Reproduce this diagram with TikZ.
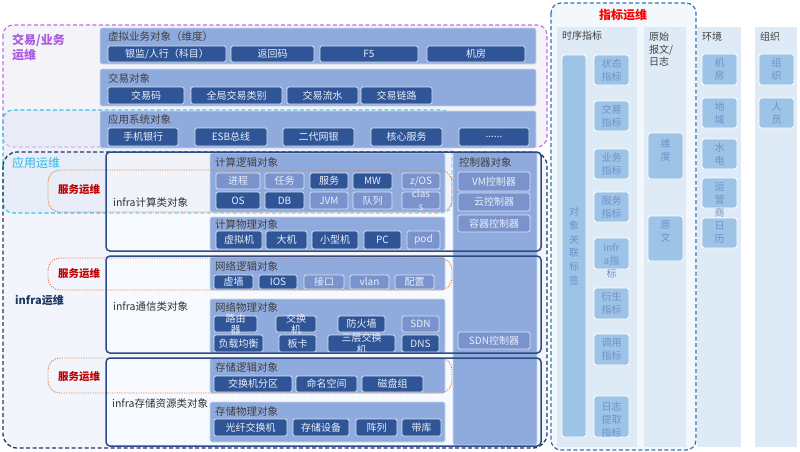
\documentclass[tikz,border=0pt]{standalone}
\usepackage{fontspec}
\setmainfont{Noto Sans CJK SC}
\usetikzlibrary{fit}
\definecolor{pnlc}{RGB}{143,170,220}
\definecolor{pnlb}{RGB}{205,218,240}
\definecolor{dkc}{RGB}{47,85,151}
\definecolor{ltc}{RGB}{122,147,205}
\definecolor{bxb}{RGB}{218,227,243}
\definecolor{wtc}{RGB}{234,239,249}
\definecolor{ttlc}{RGB}{64,64,64}
\definecolor{colc}{RGB}{222,235,247}
\definecolor{rbc}{RGB}{157,195,230}
\definecolor{rtc}{RGB}{112,145,205}
\definecolor{zbf}{RGB}{243,248,253}
\definecolor{zbd}{RGB}{46,117,182}
\definecolor{purc}{RGB}{190,110,240}
\definecolor{purt}{RGB}{170,90,225}
\definecolor{purf}{RGB}{244,243,248}
\definecolor{cync}{RGB}{50,195,240}
\definecolor{cynt}{RGB}{40,185,235}
\definecolor{cynf}{RGB}{226,231,244}
\definecolor{nvyc}{RGB}{31,56,100}
\definecolor{nvyf}{RGB}{242,246,252}
\definecolor{nbxc}{RGB}{45,75,135}
\definecolor{orgc}{RGB}{225,130,70}
\definecolor{redA}{RGB}{192,0,0}
\definecolor{redB}{RGB}{255,0,0}
\definecolor{inftc}{RGB}{50,50,50}
\newcommand\bx[8]{\node[#6,fit={(#2,#3)(#4,#5)},inner sep=0pt,label={[#7]center:{#8}}] (#1) {};}
\begin{document}
\begin{tikzpicture}[x=1pt,y=-1pt,
  pnl/.style={fill=pnlc,draw=pnlb,line width=0.6pt,rounded corners=2pt},
  dk/.style={fill=dkc,draw=bxb,line width=0.9pt,rounded corners=1.5pt},
  lt/.style={fill=ltc,draw=bxb,line width=0.9pt,rounded corners=1.5pt},
  wt/.style={font=\fontsize{10}{11}\selectfont,text=wtc,align=center,inner sep=0pt},
  ttl/.style={font=\fontsize{10.5}{12}\selectfont,text=ttlc,anchor=west,inner sep=0pt},
  col/.style={fill=colc,draw=none,inner sep=0pt},
  rb/.style={fill=rbc,draw=white,line width=0.9pt,rounded corners=2.5pt},
  rt/.style={font=\fontsize{10}{13}\selectfont,text=rtc,align=center,inner sep=0pt},
  svc/.style={font=\bfseries\fontsize{10.5}{12}\selectfont,text=redA,inner sep=0pt},
  orgbox/.style={draw=orgc,line width=0.9pt,dash pattern=on 1.2pt off 1.2pt,rounded corners=12pt},
  nbox/.style={draw=nbxc,line width=1.5pt,rounded corners=4pt},
  inf/.style={font=\fontsize{10.5}{12}\selectfont,text=inftc,anchor=west,inner sep=0pt}]
\useasboundingbox (0,0) rectangle (800,451);
\fill[white] (0,0) rectangle (800,451);
% ---------- right: indicator area ----------
\fill[zbf,rounded corners=10pt] (551,3) rectangle (696,450);
\node[col,fit={(557,27)(637,447)}] (c1) {};
\node[col,fit={(644,27)(686,447)}] (c2) {};
\node[col,fit={(697,27)(741,447)}] (c3) {};
\node[col,fit={(755,27)(797,447)}] (c4) {};
\draw[zbd,line width=1.2pt,dash pattern=on 4pt off 2.5pt,rounded corners=10pt] (551,3) rectangle (696,450);
\node[font=\bfseries\fontsize{12}{14}\selectfont,text=redB] (zbt) at (623,15) {指标运维};
\node[ttl,font=\fontsize{10}{12}\selectfont] (c1t) at (562,36) {时序指标};
\node[ttl,font=\fontsize{10}{12.5}\selectfont,align=left] (c2t) at (649,49.5) {原始\\报文/\\日志};
\node[ttl,font=\fontsize{10}{12}\selectfont] (c3t) at (702,37) {环境};
\node[ttl,font=\fontsize{10}{12}\selectfont] (c4t) at (760,37) {组织};
\bx{tall}{562}{55}{586}{437}{rb}{rt,font=\fontsize{10}{13.8}\selectfont}{对\\象\\关\\联\\标\\签}
\bx{s1}{594}{55}{629}{85}{rb}{rt}{状态\\指标}
\bx{s2}{594}{101}{629}{131}{rb}{rt}{交易\\指标}
\bx{s3}{594}{149}{629}{179}{rb}{rt}{业务\\指标}
\bx{s4}{594}{192}{629}{222}{rb}{rt}{服务\\指标}
\bx{s5}{594}{238}{629}{269}{rb}{rt,yshift=-7pt}{infr\\a指\\标}
\bx{s6}{594}{288}{629}{319}{rb}{rt}{衍生\\指标}
\bx{s7}{594}{334}{629}{365}{rb}{rt}{调用\\指标}
\bx{s8}{594}{396}{629}{437}{rb}{rt,yshift=-3pt}{日志\\提取\\指标}
\bx{y1}{648}{133}{683}{179}{rb}{rt,yshift=6pt}{维\\度}
\bx{y2}{648}{216}{683}{261}{rb}{rt,yshift=7pt}{原\\文}
\bx{e1}{702}{54}{737}{85}{rb}{rt}{机\\房}
\bx{e2}{702}{98}{737}{128}{rb}{rt}{地\\域}
\bx{e3}{702}{139}{737}{169}{rb}{rt}{水\\电}
\bx{e4}{702}{178}{737}{208}{rb}{rt,yshift=-7pt}{运\\营\\商}
\bx{e5}{702}{218}{737}{248}{rb}{rt}{日\\历}
\bx{g1}{759}{54}{794}{85}{rb}{rt}{组\\织}
\bx{g2}{759}{98}{794}{128}{rb}{rt}{人\\员}
% ---------- left regions ----------
\fill[purf,rounded corners=10pt] (3,25) rectangle (547,147);
\draw[purc,line width=1.1pt,dash pattern=on 4pt off 2.5pt,rounded corners=10pt] (3,25) rectangle (547,147);
\fill[nvyf,rounded corners=14pt] (3,152) rectangle (547,448);
\fill[cynf,fill opacity=0.6,rounded corners=10pt] (3,110) rectangle (452,213);
\draw[cync,line width=1.1pt,dash pattern=on 4pt off 2.5pt,rounded corners=10pt] (3,110) rectangle (452,213);
\draw[nvyc,line width=1.3pt,dash pattern=on 4pt off 2.5pt,rounded corners=14pt] (3,152) rectangle (547,448);
\node[font=\bfseries\fontsize{12}{15}\selectfont,text=purt,align=left,anchor=west,inner sep=0pt] (lb1) at (12,47) {交易/业务\\运维};
\node[font=\fontsize{12}{14}\selectfont,text=cynt,anchor=west,inner sep=0pt] (lb2) at (12,163) {应用运维};
\node[font=\bfseries\fontsize{11}{13}\selectfont,text=nvyc,anchor=west,inner sep=0pt] (lb3) at (15,300) {infra运维};
% ---------- business rows ----------
\node[pnl,fit={(100,28)(536,64)},inner sep=0pt] (r1) {};
\node[ttl] (r1t) at (108,37) {虚拟业务对象（维度）};
\bx{b11}{108}{46}{226}{62}{dk}{wt}{银监/人行（科目）}
\bx{b12}{231}{46}{314}{62}{dk}{wt}{返回码}
\bx{b13}{320}{46}{418}{62}{dk}{wt}{F5}
\bx{b14}{427}{46}{525}{62}{dk}{wt}{机房}
\node[pnl,fit={(100,69)(536,106)},inner sep=0pt] (r2) {};
\node[ttl] (r2t) at (108,78) {交易对象};
\bx{b21}{108}{87}{184}{104}{dk}{wt}{交易码}
\bx{b22}{191}{87}{282}{104}{dk}{wt}{全局交易类别}
\bx{b23}{287}{87}{358}{104}{dk}{wt}{交易流水}
\bx{b24}{361}{87}{432}{104}{dk}{wt}{交易链路}
\node[pnl,fit={(100,111)(536,148)},inner sep=0pt] (r3) {};
\node[ttl] (r3t) at (108,119) {应用系统对象};
\bx{b31}{108}{128}{178}{146}{dk}{wt}{手机银行}
\bx{b32}{195}{128}{267}{146}{dk}{wt}{ESB总线}
\bx{b33}{283}{128}{354}{146}{dk}{wt}{二代网银}
\bx{b34}{371}{128}{442}{146}{dk}{wt}{核心服务}
\bx{b35}{459}{128}{529}{146}{dk}{wt}{......}
% ---------- infra boxes ----------
\fill[white,fill opacity=0.35,rounded corners=4pt] (106,152) rectangle (541,251);
\fill[white,fill opacity=0.35,rounded corners=4pt] (106,256) rectangle (541,353);
\fill[white,fill opacity=0.35,rounded corners=4pt] (106,358) rectangle (541,446);
\node[pnl,fit={(453,152)(537,445)},inner sep=0pt] (ctl) {};
\node[ttl] (ctlt) at (459,162) {控制器对象};
\bx{k1}{458}{172}{530}{191}{lt}{wt}{VM控制器}
\bx{k2}{458}{193}{530}{211}{lt}{wt}{云控制器}
\bx{k3}{458}{215}{530}{232}{lt}{wt}{容器控制器}
\bx{k4}{458}{332}{530}{349}{lt}{wt}{SDN控制器}
% compute logic
\node[pnl,fit={(210,153)(445,212)},inner sep=0pt] (p1) {};
\node[ttl] (p1t) at (215,162) {计算逻辑对象};
\bx{q1}{216}{173}{260}{189}{lt}{wt}{进程}
\bx{q2}{265}{173}{304}{189}{lt}{wt}{任务}
\bx{q3}{310}{173}{348}{189}{dk}{wt}{服务}
\bx{q4}{353}{173}{392}{189}{dk}{wt}{MW}
\bx{q5}{402}{173}{440}{189}{lt}{wt}{z/OS}
\bx{q6}{216}{192}{260}{209}{dk}{wt}{OS}
\bx{q7}{265}{192}{304}{209}{dk}{wt}{DB}
\bx{q8}{310}{192}{348}{209}{lt}{wt}{JVM}
\bx{q9}{353}{192}{392}{209}{lt}{wt}{队列}
\bx{q10}{402}{192}{440}{209}{lt}{wt,font=\fontsize{10}{13}\selectfont}{clas\\s}
% compute physical
\node[pnl,fit={(210,217)(445,250)},inner sep=0pt] (p2) {};
\node[ttl] (p2t) at (215,224) {计算物理对象};
\bx{m1}{216}{231}{262}{249}{dk}{wt}{虚拟机}
\bx{m2}{266}{231}{307}{249}{dk}{wt}{大机}
\bx{m3}{312}{231}{358}{249}{dk}{wt}{小型机}
\bx{m4}{364}{231}{401}{249}{dk}{wt}{PC}
\bx{m5}{407}{231}{440}{249}{lt}{wt}{pod}
% network logic
\node[pnl,fit={(210,257)(445,290)},inner sep=0pt] (p3) {};
\node[ttl] (p3t) at (215,266) {网络逻辑对象};
\bx{n1}{214}{275}{253}{289}{dk}{wt}{虚墙}
\bx{n2}{259}{275}{297}{289}{dk}{wt}{IOS}
\bx{n3}{304}{275}{344}{289}{lt}{wt}{接口}
\bx{n4}{350}{275}{389}{289}{lt}{wt}{vlan}
\bx{n5}{395}{275}{434}{289}{lt}{wt}{配置}
% network physical
\node[pnl,fit={(210,299)(445,353)},inner sep=0pt] (p4) {};
\node[ttl] (p4t) at (215,307) {网络物理对象};
\bx{w1}{214}{316}{257}{332}{dk}{wt}{路由\\器}
\bx{w2}{276}{316}{316}{332}{dk}{wt}{交换\\机}
\bx{w3}{338}{316}{385}{332}{dk}{wt}{防火墙}
\bx{w4}{402}{316}{439}{332}{lt}{wt}{SDN}
\bx{w5}{214}{335}{263}{352}{dk}{wt}{负载均衡}
\bx{w6}{279}{335}{316}{352}{dk}{wt}{板卡}
\bx{w7}{328}{335}{395}{352}{dk}{wt,font=\fontsize{10}{12}\selectfont}{三层交换\\机}
\bx{w8}{402}{335}{439}{352}{dk}{wt}{DNS}
% storage logic
\node[pnl,fit={(210,358)(445,393)},inner sep=0pt] (p5) {};
\node[ttl] (p5t) at (215,367) {存储逻辑对象};
\bx{t1}{214}{376}{292}{392}{dk}{wt}{交换机分区}
\bx{t2}{296}{376}{357}{392}{dk}{wt}{命名空间}
\bx{t3}{362}{376}{423}{392}{dk}{wt}{磁盘组}
% storage physical
\node[pnl,fit={(210,402)(445,442)},inner sep=0pt] (p6) {};
\node[ttl] (p6t) at (215,411) {存储物理对象};
\bx{u1}{214}{419}{287}{436}{dk}{wt}{光纤交换机}
\bx{u2}{293}{419}{349}{436}{dk}{wt}{存储设备}
\bx{u3}{356}{419}{397}{436}{dk}{wt}{阵列}
\bx{u4}{402}{419}{441}{436}{dk}{wt}{带库}
% service ops dotted boxes
\draw[orgbox] (48,170) rectangle (452,212);
\draw[orgbox] (48,258) rectangle (452,290);
\draw[orgbox] (48,358) rectangle (452,393);
\node[svc] (sv1) at (79,190) {服务运维};
\node[svc] (sv2) at (79,274) {服务运维};
\node[svc] (sv3) at (79,377) {服务运维};
% infra solid borders
\node[nbox,fit={(106,152)(541,251)},inner sep=0pt] (nb1) {};
\node[nbox,fit={(106,256)(541,353)},inner sep=0pt] (nb2) {};
\node[nbox,fit={(106,358)(541,446)},inner sep=0pt] (nb3) {};
\node[inf] (i1) at (113,202) {infra计算类对象};
\node[inf] (i2) at (113,306) {infra通信类对象};
\node[inf] (i3) at (112,403) {infra存储资源类对象};
\end{tikzpicture}
\end{document}
